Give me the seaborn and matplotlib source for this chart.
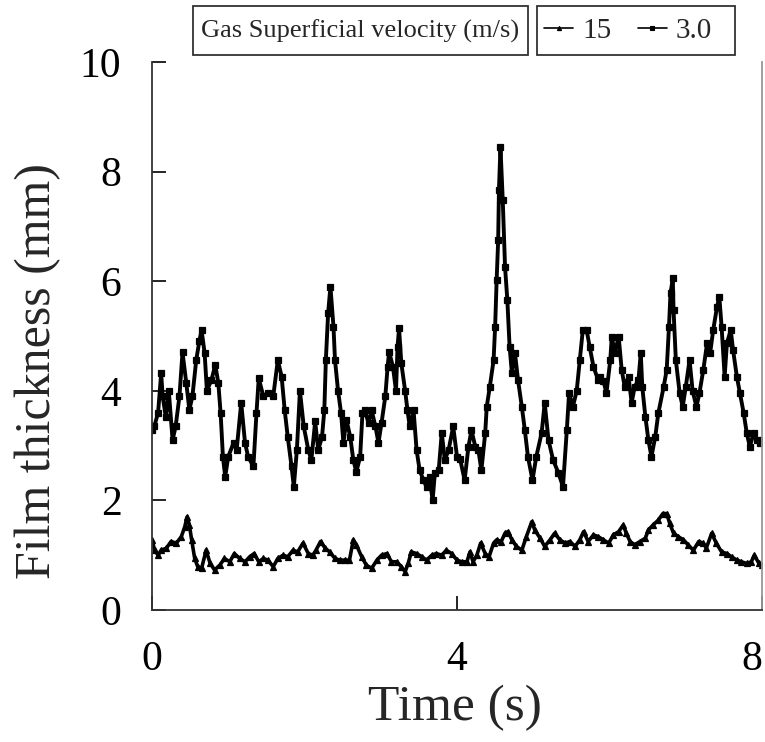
import matplotlib
matplotlib.use("Agg")
import matplotlib.pyplot as plt
from matplotlib.patches import Rectangle
from matplotlib.lines import Line2D
import seaborn as sns
import pandas as pd

# ---- data ----
t_30 = [0.00, 0.03, 0.08, 0.12, 0.14, 0.18, 0.22, 0.27, 0.31, 0.36, 0.40, 0.45, 0.49, 0.53, 0.58, 0.62, 0.65, 0.69,
        0.72, 0.78, 0.83, 0.87, 0.90, 0.93, 0.96, 1.00, 1.07, 1.11, 1.17, 1.22, 1.26, 1.33, 1.37, 1.40, 1.46, 1.52,
        1.59, 1.65, 1.70, 1.74, 1.78, 1.83, 1.86, 1.90, 1.94, 1.99, 2.05, 2.09, 2.14, 2.18, 2.23, 2.26, 2.28, 2.31,
        2.34, 2.38, 2.40, 2.44, 2.48, 2.51, 2.55, 2.60, 2.64, 2.68, 2.73, 2.76, 2.79, 2.84, 2.88, 2.93, 2.97, 3.01,
        3.06, 3.09, 3.11, 3.16, 3.20, 3.22, 3.24, 3.27, 3.32, 3.35, 3.38, 3.43, 3.47, 3.51, 3.56, 3.60, 3.64, 3.68,
        3.71, 3.76, 3.80, 3.84, 3.89, 3.95, 4.00, 4.04, 4.10, 4.15, 4.19, 4.24, 4.28, 4.32, 4.37, 4.39, 4.43, 4.48,
        4.50, 4.52, 4.54, 4.55, 4.57, 4.60, 4.63, 4.66, 4.69, 4.72, 4.76, 4.80, 4.85, 4.89, 4.93, 4.99, 5.04, 5.11,
        5.15, 5.20, 5.26, 5.33, 5.39, 5.44, 5.47, 5.52, 5.57, 5.61, 5.65, 5.70, 5.74, 5.79, 5.85, 5.88, 5.92, 5.96,
        6.01, 6.03, 6.07, 6.12, 6.16, 6.20, 6.25, 6.29, 6.33, 6.38, 6.41, 6.43, 6.47, 6.51, 6.55, 6.60, 6.64, 6.71,
        6.75, 6.78, 6.80, 6.83, 6.84, 6.87, 6.92, 6.96, 7.00, 7.05, 7.09, 7.14, 7.18, 7.23, 7.28, 7.32, 7.36, 7.41,
        7.44, 7.47, 7.51, 7.54, 7.59, 7.62, 7.67, 7.71, 7.76, 7.80, 7.84, 7.89, 7.93, 7.97, 8.00]
h_30 = [3.28, 3.35, 3.60, 4.32, 3.90, 3.53, 4.00, 3.10, 3.35, 3.90, 4.70, 4.14, 3.65, 3.90, 4.56, 4.90, 5.11, 4.69,
        4.00, 4.20, 4.47, 4.14, 3.59, 2.80, 2.43, 2.80, 3.05, 2.92, 3.78, 3.05, 2.80, 2.62, 3.59, 4.23, 3.90, 3.96,
        3.90, 4.56, 4.26, 3.65, 3.16, 2.62, 2.25, 2.92, 4.00, 3.35, 2.92, 2.74, 3.44, 2.92, 3.16, 3.65, 4.56, 5.42,
        5.90, 5.17, 4.56, 4.00, 3.59, 3.05, 3.47, 3.16, 2.74, 2.52, 2.80, 3.59, 3.65, 3.41, 3.65, 3.35, 3.05, 3.41,
        3.90, 4.44, 4.71, 4.44, 4.00, 4.80, 5.14, 4.50, 4.00, 3.65, 3.35, 3.65, 2.92, 2.55, 2.37, 2.25, 2.43, 2.00,
        2.50, 2.55, 3.23, 2.74, 2.92, 3.35, 2.80, 2.76, 2.37, 2.98, 3.28, 2.98, 2.92, 2.55, 3.23, 3.71, 4.07, 4.56,
        5.17, 6.02, 6.75, 7.66, 8.45, 7.48, 6.26, 5.66, 4.80, 4.32, 4.69, 4.20, 3.71, 3.28, 2.80, 2.37, 2.80, 3.23,
        3.78, 3.10, 2.74, 2.50, 2.25, 3.28, 3.96, 3.71, 4.00, 4.56, 5.11, 5.11, 4.80, 4.44, 4.20, 4.26, 4.18, 3.96,
        4.56, 4.99, 4.69, 4.99, 4.38, 4.07, 4.26, 3.78, 4.07, 4.20, 4.69, 4.07, 3.53, 3.10, 2.80, 3.16, 3.59, 4.07,
        4.38, 5.17, 5.78, 6.05, 5.47, 4.56, 3.96, 3.71, 4.07, 4.56, 4.00, 3.71, 3.96, 4.38, 4.87, 4.69, 5.11, 5.53,
        5.72, 5.17, 4.26, 4.87, 5.11, 4.75, 4.26, 3.96, 3.59, 3.23, 2.98, 3.23, 3.10, 3.04, 3.10]

t_15 = [0.00, 0.035, 0.08, 0.12, 0.19, 0.25, 0.32, 0.385, 0.43, 0.46, 0.49, 0.52, 0.56, 0.60, 0.65, 0.71, 0.76, 0.82,
        0.89, 0.95, 1.02, 1.08, 1.15, 1.22, 1.28, 1.34, 1.40, 1.46, 1.52, 1.59, 1.65, 1.72, 1.78, 1.85, 1.91, 1.98,
        2.05, 2.11, 2.15, 2.21, 2.27, 2.33, 2.40, 2.46, 2.53, 2.59, 2.64, 2.68, 2.75, 2.81, 2.88, 2.95, 3.01, 3.08,
        3.14, 3.21, 3.27, 3.32, 3.36, 3.40, 3.47, 3.54, 3.60, 3.67, 3.73, 3.80, 3.86, 3.93, 4.00, 4.06, 4.13, 4.17,
        4.21, 4.26, 4.31, 4.37, 4.42, 4.48, 4.52, 4.58, 4.63, 4.67, 4.72, 4.78, 4.85, 4.91, 4.98, 5.02, 5.09, 5.15,
        5.22, 5.28, 5.35, 5.42, 5.48, 5.55, 5.61, 5.66, 5.72, 5.79, 5.85, 5.92, 5.99, 6.05, 6.12, 6.18, 6.22, 6.27,
        6.33, 6.40, 6.47, 6.51, 6.57, 6.64, 6.70, 6.75, 6.79, 6.84, 6.90, 6.97, 7.03, 7.10, 7.17, 7.23, 7.27, 7.34,
        7.40, 7.47, 7.54, 7.60, 7.67, 7.73, 7.80, 7.86, 7.90, 7.96, 8.00]
h_15 = [1.28, 1.09, 1.00, 1.09, 1.13, 1.25, 1.22, 1.34, 1.52, 1.70, 1.55, 1.28, 0.94, 0.79, 0.76, 1.09, 0.86, 0.73,
        0.82, 0.94, 0.88, 1.03, 0.94, 0.88, 0.97, 1.03, 0.88, 0.94, 0.91, 0.79, 0.94, 1.00, 0.97, 1.09, 1.06, 1.22,
        1.03, 1.00, 1.09, 1.25, 1.13, 1.06, 0.94, 0.91, 0.91, 0.91, 1.28, 1.19, 0.97, 0.82, 0.76, 0.91, 1.00, 1.03,
        0.88, 0.88, 0.79, 0.70, 0.85, 1.06, 1.03, 0.97, 0.91, 1.00, 1.03, 1.00, 1.09, 1.03, 0.91, 0.88, 0.88, 1.06,
        0.88, 1.00, 1.22, 1.03, 0.97, 1.22, 1.28, 1.25, 1.40, 1.43, 1.28, 1.16, 1.09, 1.34, 1.61, 1.46, 1.31, 1.16,
        1.28, 1.40, 1.28, 1.22, 1.25, 1.16, 1.28, 1.43, 1.25, 1.37, 1.34, 1.28, 1.22, 1.37, 1.43, 1.55, 1.40, 1.25,
        1.19, 1.25, 1.31, 1.46, 1.55, 1.64, 1.76, 1.76, 1.58, 1.40, 1.34, 1.28, 1.19, 1.09, 1.25, 1.22, 1.13, 1.40,
        1.22, 1.06, 1.03, 0.97, 0.91, 0.88, 0.85, 0.88, 1.00, 0.85, 0.82]

series_labels = ["15", "3.0"]
legend_title = "Gas Superficial velocity (m/s)"
x_ticks = [0, 4, 8]
y_ticks = [0, 2, 4, 6, 8, 10]
x_label = "Time (s)"
y_label = "Film thickness (mm)"

# ---- figure ----
sns.set_style("ticks")
plt.rcParams["font.family"] = ["Liberation Serif", "DejaVu Serif"]

W, H = 765, 742
fig = plt.figure(figsize=(W / 100, H / 100), dpi=100)
ax = fig.add_axes([152 / W, 1 - 610 / H, 610 / W, 548 / H])

df15 = pd.DataFrame({"t": t_15, "h": h_15})
df30 = pd.DataFrame({"t": t_30, "h": h_30})

sns.lineplot(data=df15, x="t", y="h", ax=ax, color="black", linewidth=2.6,
             marker="^", markersize=4.0, markeredgewidth=0.9, markeredgecolor="black",
             sort=False, estimator=None)
sns.lineplot(data=df30, x="t", y="h", ax=ax, color="black", linewidth=2.8,
             marker="s", markersize=4.6, markeredgewidth=0.9, markeredgecolor="black",
             sort=False, estimator=None)

ax.set_xlim(0, 8)
ax.set_ylim(0, 10)
ax.set_xticks(x_ticks)
ax.set_yticks(y_ticks)
ax.set_xticklabels([str(v) for v in x_ticks])
ax.set_yticklabels([str(v) for v in y_ticks])
ax.tick_params(direction="in", length=10, width=1.2, labelsize=30, pad=22, colors="black")
ax.tick_params(axis="x", pad=22)
xtl = ax.get_xticklabels()
xtl[-1].set_horizontalalignment("right")
ax.set_xlabel(x_label, fontsize=37)
ax.set_ylabel(y_label, fontsize=36)
ax.xaxis.set_label_coords((455 - 152) / 610, -(708 - 610) / 548)
ax.yaxis.set_label_coords((38 - 152) / 610, (610 - 371) / 548)
ax.xaxis.label.set_verticalalignment("center")
ax.yaxis.label.set_verticalalignment("center")

for s in ["left", "bottom"]:
    ax.spines[s].set_color("#333333")
    ax.spines[s].set_linewidth(1.3)
ax.spines["top"].set_visible(False)
ax.spines["right"].set_color("#999999")
ax.spines["right"].set_linewidth(1.3)

# ---- legend boxes (top) ----
def fig_rect(x0, y0, x1, y1):
    r = Rectangle((x0 / W, 1 - y1 / H), (x1 - x0) / W, (y1 - y0) / H,
                  transform=fig.transFigure, fill=False, edgecolor="#333333", linewidth=1.3)
    fig.patches.append(r)

fig_rect(193, 6, 528, 55)
fig.text((193 + 528) / 2 / W, 1 - 31 / H, legend_title, ha="center", va="center", fontsize=19)

fig_rect(537, 6, 735, 55)
handles = [
    Line2D([], [], color="black", linewidth=1.2, marker="^", markersize=3, markeredgewidth=0.8),
    Line2D([], [], color="black", linewidth=1.2, marker="s", markersize=3.5, markeredgewidth=0.8),
]
fig.legend(handles, series_labels, loc="center", bbox_to_anchor=(628 / W, 1 - 31 / H),
           ncol=2, frameon=False, fontsize=21, handlelength=1.0, handletextpad=0.3,
           columnspacing=0.9, borderpad=0.2)

fig.savefig("out.png", dpi=100)
